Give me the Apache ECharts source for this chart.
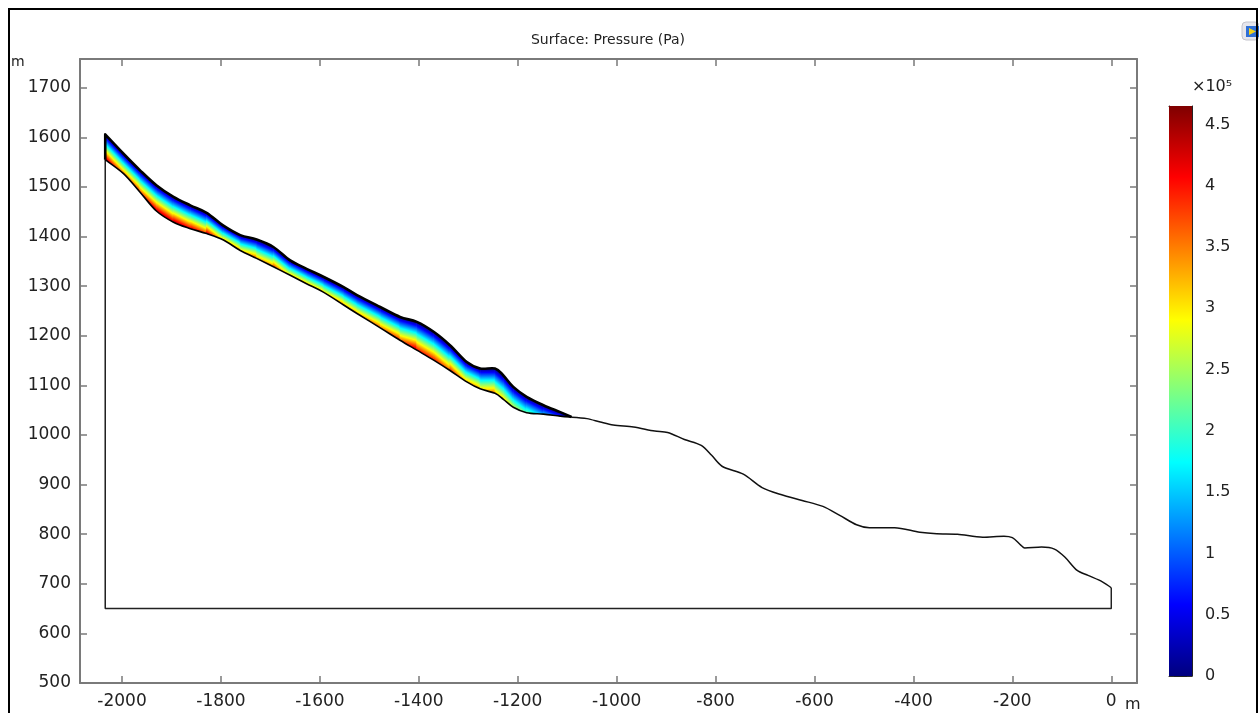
<!DOCTYPE html>
<html><head><meta charset="utf-8">
<script src="https://cdn.jsdelivr.net/npm/echarts@6/dist/echarts.min.js"></script>
<style>html,body{margin:0;padding:0;background:#fff}#c{width:1259px;height:713px}</style>
</head><body><div id="c"></div>
<script>
// ---- tick labels ----
const xTicks = [-2000,-1800,-1600,-1400,-1200,-1000,-800,-600,-400,-200,0];
const yTicks = [500,600,700,800,900,1000,1100,1200,1300,1400,1500,1600,1700];
const cbTicks = [0,0.5,1,1.5,2,2.5,3,3.5,4,4.5];
const PMAX = 4.65; // colour range top, x10^5 Pa

// ---- flowing layer (band) : x, free-surface elevation, ground elevation, pressure at ground (x10^5 Pa) ----
const bandX      = [-2034,-1997,-1964,-1930,-1896,-1862,-1829,-1795,-1761,-1728,-1694,-1660,-1627,-1593,-1552,-1525,-1478,-1438,-1404,-1370,-1337,-1303,-1276,-1246,-1229,-1209,-1182,-1148,-1114,-1091];
const bandTop    = [1606,1567,1534,1503,1480,1463,1448,1422,1403,1394,1379,1352,1335,1319,1298,1282,1258,1238,1228,1208,1181,1147,1134,1134,1120,1097,1077,1060,1046,1036];
const bandBottom = [1555,1527,1490,1451,1429,1416,1406,1393,1372,1356,1339,1322,1305,1288,1262,1245,1216,1191,1171,1151,1130,1107,1093,1084,1072,1056,1045,1042,1038,1036];
const bandBottomPressure = [4.3,3.7,3.8,4.3,4.4,4.2,3.9,3.4,3.3,3.4,3.5,3.2,3.2,3.2,3.3,3.4,3.6,3.9,4.1,4.0,3.7,3.4,3.3,3.3,3.1,2.7,2.1,1.4,0.7,0];

// ---- ground surface downstream of the layer ----
const groundX = [-1091,-1060,-1033,-1007,-966,-923,-897,-863,-829,-808,-787,-744,-706,-668,-625,-583,-549,-515,-489,-438,-387,-353,-311,-260,-217,-200,-183,-175,-141,-115,-94,-69,-47,-18,0];
const groundY = [1036,1033,1026,1020,1016,1008,1005,991,979,959,937,921,894,880,868,856,838,819,813,813,804,801,800,794,796,793,778,772,774,770,754,727,717,704,692];

// ---- computational domain outline (left, bottom, right sides) ----
const domainX = [-2034,-2034,0,0];
const domainY = [1555,650,650,692];

// jet colormap
const jetStops = [[0,[0,0,127]],[0.125,[0,0,255]],[0.375,[0,255,255]],[0.625,[255,255,0]],[0.875,[255,0,0]],[1,[127,0,0]]];
function rgb(c){return 'rgb('+c.map(v=>Math.round(v)).join(',')+')';}
function jet(t){
  t=Math.max(0,Math.min(1,t));
  for(let i=0;i<jetStops.length-1;i++){
    const [t0,c0]=jetStops[i],[t1,c1]=jetStops[i+1];
    if(t<=t1){const f=(t-t0)/(t1-t0);return rgb(c0.map((v,j)=>v+(c1[j]-v)*f));}
  }
  return rgb(jetStops[jetStops.length-1][1]);
}
function stopsUpTo(p){
  if(p<=1e-6) return [{offset:0,color:jet(0)},{offset:1,color:jet(0)}];
  const res=[{offset:0,color:jet(0)}];
  jetStops.forEach(([t,c])=>{const v=t*PMAX; if(v>0&&v<p) res.push({offset:v/p,color:rgb(c)});});
  res.push({offset:1,color:jet(p/PMAX)});
  return res;
}
// Catmull-Rom curve through screen points (starting at pts[0])
function crSegs(pts){
  let d='';
  for(let i=0;i<pts.length-1;i++){
    const p0=pts[Math.max(i-1,0)],p1=pts[i],p2=pts[i+1],p3=pts[Math.min(i+2,pts.length-1)];
    const c1=[p1[0]+(p2[0]-p0[0])/6,p1[1]+(p2[1]-p0[1])/6];
    const c2=[p2[0]-(p3[0]-p1[0])/6,p2[1]-(p3[1]-p1[1])/6];
    d+='C'+c1[0].toFixed(2)+' '+c1[1].toFixed(2)+' '+c2[0].toFixed(2)+' '+c2[1].toFixed(2)+' '+p2[0].toFixed(2)+' '+p2[1].toFixed(2);
  }
  return d;
}
function P(p){return p[0].toFixed(2)+' '+p[1].toFixed(2);}

function renderBand(params, api){
  const T=bandX.map((x,i)=>api.coord([x,bandTop[i]]));
  const Bt=bandX.map((x,i)=>api.coord([x,bandBottom[i]]));
  const n=bandX.length;
  const slices=[];
  for(let i=0;i<n-1;i++){
    const A=T[i],B=T[i+1],C=Bt[i+1],D=Bt[i];
    const dx=B[0]-A[0],dy=B[1]-A[1],L=Math.hypot(dx,dy);
    const nx=-dy/L,ny=dx/L;
    const H0=D[1]-A[1],H1=C[1]-B[1];
    const rates=[];
    if(H0>0.5) rates.push(bandBottomPressure[i]/H0);
    if(H1>0.5) rates.push(bandBottomPressure[i+1]/H1);
    const k=rates.length?rates.reduce((a,b)=>a+b,0)/rates.length:0;
    const Hm=Math.max(H0,H1,1)+5;
    const S=Hm*dx/L;
    const fill={type:'linear',global:true,x:A[0],y:A[1],x2:A[0]+nx*S,y2:A[1]+ny*S,colorStops:stopsUpTo(k*Hm)};
    slices.push({type:'polygon',shape:{points:[[A[0],A[1]-5],[B[0],B[1]-5],[C[0],C[1]+5],[D[0],D[1]+5]]},
      style:{fill:fill,stroke:fill,lineWidth:0.8}});
  }
  const revB=Bt.slice().reverse();
  const outlineD='M'+P(Bt[0])+'L'+P(T[0])+crSegs(T)+crSegs(revB)+'Z';
  const topD='M'+P(Bt[0])+'L'+P(T[0])+crSegs(T);
  const botD='M'+P(revB[0])+crSegs(revB);
  return {type:'group',children:[
    {type:'group',children:slices,clipPath:{type:'path',shape:{pathData:outlineD}}},
    {type:'path',shape:{pathData:botD},style:{fill:null,stroke:'#000',lineWidth:1.6}},
    {type:'path',shape:{pathData:topD},style:{fill:null,stroke:'#000',lineWidth:2.6,lineJoin:'round'}}
  ]};
}
function renderBar(params, api){
  const p0=api.coord([0,0]), p1=api.coord([1,PMAX]);
  return {type:'rect',shape:{x:p0[0],y:p1[1],width:p1[0]-p0[0],height:p0[1]-p1[1]},
    style:{fill:{type:'linear',x:0,y:1,x2:0,y2:0,colorStops:jetStops.map(([t,c])=>({offset:t,color:rgb(c)}))}}};
}

const FONT='DejaVu Sans';
const axisGray='#7a7a7a';
const TXT='#222';
function mainX(pos, labels){
  return {type:'value',gridIndex:0,position:pos,min:-2085,max:52,
    axisLine:{show:true,onZero:false,lineStyle:{color:axisGray,width:2}},
    axisTick:{show:true,inside:true,length:7,customValues:xTicks,lineStyle:{color:axisGray,width:1.5}},
    axisLabel:{show:labels,customValues:xTicks,fontFamily:FONT,fontSize:17,color:TXT,margin:10,formatter:v=>String(v)},
    splitLine:{show:false}};
}
function mainY(pos, labels){
  return {type:'value',gridIndex:0,position:pos,min:500,max:1758,
    axisLine:{show:true,onZero:false,lineStyle:{color:axisGray,width:2}},
    axisTick:{show:true,inside:true,length:7,customValues:yTicks,lineStyle:{color:axisGray,width:1.5}},
    axisLabel:{show:labels,customValues:yTicks,fontFamily:FONT,fontSize:17,color:TXT,margin:9,formatter:v=>String(v)},
    splitLine:{show:false}};
}
function cbX(pos){
  return {type:'value',gridIndex:1,position:pos,min:0,max:1,
    axisLine:{show:true,onZero:false,lineStyle:{color:'#222',width:1}},
    axisTick:{show:false},axisLabel:{show:false},splitLine:{show:false}};
}
function cbY(pos, labels){
  return {type:'value',gridIndex:1,position:pos,min:0,max:PMAX,
    axisLine:{show:true,onZero:false,lineStyle:{color:'#222',width:1}},
    axisTick:{show:true,inside:true,length:5,customValues:cbTicks,lineStyle:{color:'#333',width:1.5}},
    axisLabel:{show:labels,customValues:cbTicks,fontFamily:FONT,fontSize:16,color:TXT,margin:13,formatter:v=>String(v)},
    splitLine:{show:false}};
}

const chart = echarts.init(document.getElementById('c'), null, {renderer:'canvas'});
chart.setOption({
  animation:false,
  backgroundColor:'#fff',
  grid:[
    {left:80,top:59,width:1057,height:624},
    {left:1169,top:106,width:23,height:570}
  ],
  xAxis:[mainX('bottom',true),mainX('top',false),cbX('bottom'),cbX('top')],
  yAxis:[mainY('left',true),mainY('right',false),cbY('left',false),cbY('right',true)],
  series:[
    {type:'custom',xAxisIndex:0,yAxisIndex:0,renderItem:renderBand,
      data:[[bandX[0],bandTop[0]]],encode:{x:0,y:1},z:4,silent:true},
    {type:'line',xAxisIndex:0,yAxisIndex:0,data:groundX.map((x,i)=>[x,groundY[i]]),symbol:'none',smooth:0.3,
      lineStyle:{color:'#111',width:1.5},z:4,silent:true},
    {type:'line',xAxisIndex:0,yAxisIndex:0,data:domainX.map((x,i)=>[x,domainY[i]]),symbol:'none',
      lineStyle:{color:'#222',width:1.5},z:3,silent:true},
    {type:'custom',xAxisIndex:2,yAxisIndex:2,renderItem:renderBar,data:[[0,0]],encode:{x:0,y:1},z:1,silent:true}
  ],
  graphic:[
    {type:'rect',shape:{x:9,y:9,width:1248,height:720},style:{fill:'none',stroke:'#000',lineWidth:2},z:10},
    {type:'text',x:608,y:40,style:{text:'Surface: Pressure (Pa)',fontFamily:FONT,fontSize:14,fill:TXT,textAlign:'center',textVerticalAlign:'middle'}},
    {type:'text',x:11,y:62,style:{text:'m',fontFamily:FONT,fontSize:14,fill:TXT,textAlign:'left',textVerticalAlign:'middle'}},
    {type:'text',x:1125,y:705,style:{text:'m',fontFamily:FONT,fontSize:16,fill:TXT,textAlign:'left',textVerticalAlign:'middle'}},
    {type:'text',x:1192,y:87,style:{text:'×10⁵',fontFamily:FONT,fontSize:16,fill:TXT,textAlign:'left',textVerticalAlign:'middle'}},
    {type:'group',x:1242,y:22,children:[
      {type:'rect',shape:{x:0,y:0,width:17,height:18,r:4},style:{fill:'#e6e6ec',stroke:'#c4c4cc'}},
      {type:'rect',shape:{x:4,y:4,width:13,height:11},style:{fill:'#2f6fd6'}},
      {type:'polygon',shape:{points:[[7,6],[7,13],[14,9.5]]},style:{fill:'#f2d21b'}}
    ]}
  ]
});
</script>
</body></html>
